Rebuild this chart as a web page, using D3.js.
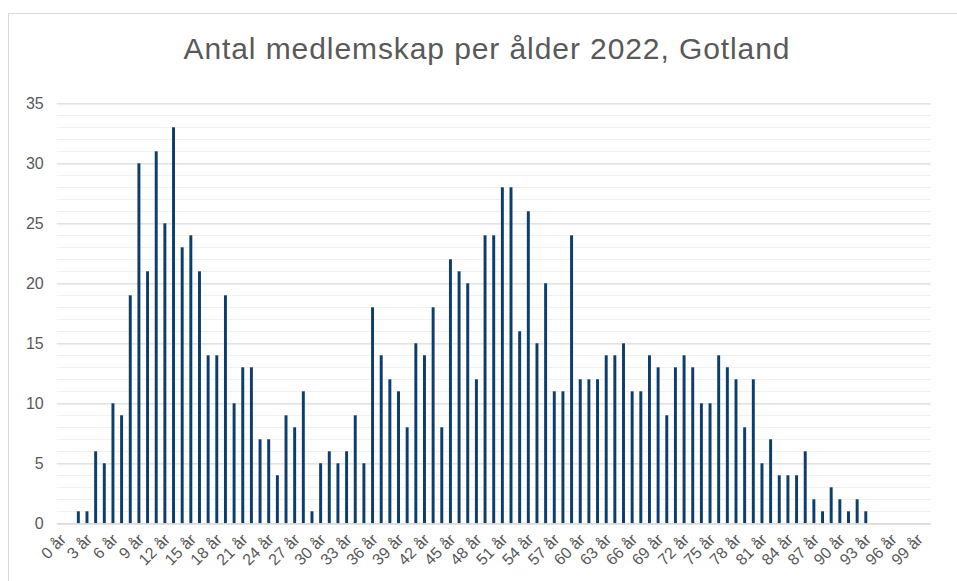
<!DOCTYPE html>
<html lang="sv">
<meta charset="UTF-8">
<style>
    body{ margin:0; background:#fff; }
    text{ font-family:"Liberation Sans", Arial, sans-serif; fill:#595959; }
    .title{ font-size:30px; }
    .tick text{ font-size:16px; }
</style>
<body>
<div id="chart"></div>
<script src="https://cdn.jsdelivr.net/npm/d3@7"></script>
<script>
    var width = 957, height = 581;
    var margin = {top:103.3, right:26.3, bottom:57.7, left:56.7};

    // ages 0..100, label every third
    var ages = d3.range(0, 101).map(function(d){ return d + " år"; });
    var members = [
        0, 0, 1, 1, 6, 5, 10, 9, 19, 30,
        21, 31, 25, 33, 23, 24, 21, 14, 14, 19,
        10, 13, 13, 7, 7, 4, 9, 8, 11, 1,
        5, 6, 5, 6, 9, 5, 18, 14, 12, 11,
        8, 15, 14, 18, 8, 22, 21, 20, 12, 24,
        24, 28, 28, 16, 26, 15, 20, 11, 11, 24,
        12, 12, 12, 14, 14, 15, 11, 11, 14, 13,
        9, 13, 14, 13, 10, 10, 14, 13, 12, 8,
        12, 5, 7, 4, 4, 4, 6, 2, 1, 3,
        2, 1, 2, 1, 0, 0, 0, 0, 0, 0,
        0
    ];
    var yTicks = [0, 5, 10, 15, 20, 25, 30, 35];

    var svg = d3.select("#chart").append("svg")
        .attr("width", width)
        .attr("height", height);

    // outer chart frame (cropped at right/bottom)
    svg.append("rect")
        .attr("x", 8.5).attr("y", 13.5)
        .attr("width", 980).attr("height", 600)
        .attr("fill", "#fff")
        .attr("stroke", "#d9d9d9");

    svg.append("text")
        .attr("class", "title")
        .attr("x", 486.5)
        .attr("y", 59)
        .attr("text-anchor", "middle")
        .attr("textLength", 606)
        .attr("lengthAdjust", "spacing")
        .text("Antal medlemskap per ålder 2022, Gotland");

    var x = d3.scaleBand()
        .domain(ages)
        .range([margin.left, width - margin.right])
        .paddingInner(0.66)
        .paddingOuter(0.33);

    var y = d3.scaleLinear()
        .domain([0, 35])
        .range([height - margin.bottom, margin.top]);

    // minor gridlines every unit
    svg.append("g")
        .selectAll("line")
        .data(d3.range(1, 35).filter(function(d){ return d % 5 != 0; }))
        .enter().append("line")
        .attr("x1", margin.left).attr("x2", width - margin.right)
        .attr("y1", function(d){ return Math.round(y(d)) + 0.5; })
        .attr("y2", function(d){ return Math.round(y(d)) + 0.5; })
        .attr("stroke", "#f0f0f0");

    // y axis with major gridlines
    var yAxis = svg.append("g")
        .attr("transform", "translate(" + margin.left + ",0)")
        .call(d3.axisLeft(y).tickValues(yTicks).tickSize(-(width - margin.left - margin.right)).tickPadding(13));
    yAxis.select(".domain").remove();
    yAxis.selectAll(".tick line").attr("stroke", "#d9d9d9").attr("stroke-width", 1.3);

    // bars
    svg.append("g")
        .selectAll("rect")
        .data(members)
        .enter().append("rect")
        .attr("x", function(d, i){ return x(ages[i]); })
        .attr("width", x.bandwidth())
        .attr("y", function(d){ return y(d); })
        .attr("height", function(d){ return y(0) - y(d); })
        .attr("fill", "#0b3d6d");

    // x axis
    var xAxis = svg.append("g")
        .attr("transform", "translate(0," + y(0) + ")")
        .call(d3.axisBottom(x)
            .tickValues(ages.filter(function(d, i){ return i % 3 == 0; }))
            .tickSize(0));
    xAxis.select(".domain").attr("stroke", "#d9d9d9").attr("stroke-width", 1.3);
    xAxis.selectAll(".tick text")
        .attr("text-anchor", "end")
        .attr("dy", 0)
        .attr("transform", "translate(4,15) rotate(-45)");
</script>
</body>
</html>
